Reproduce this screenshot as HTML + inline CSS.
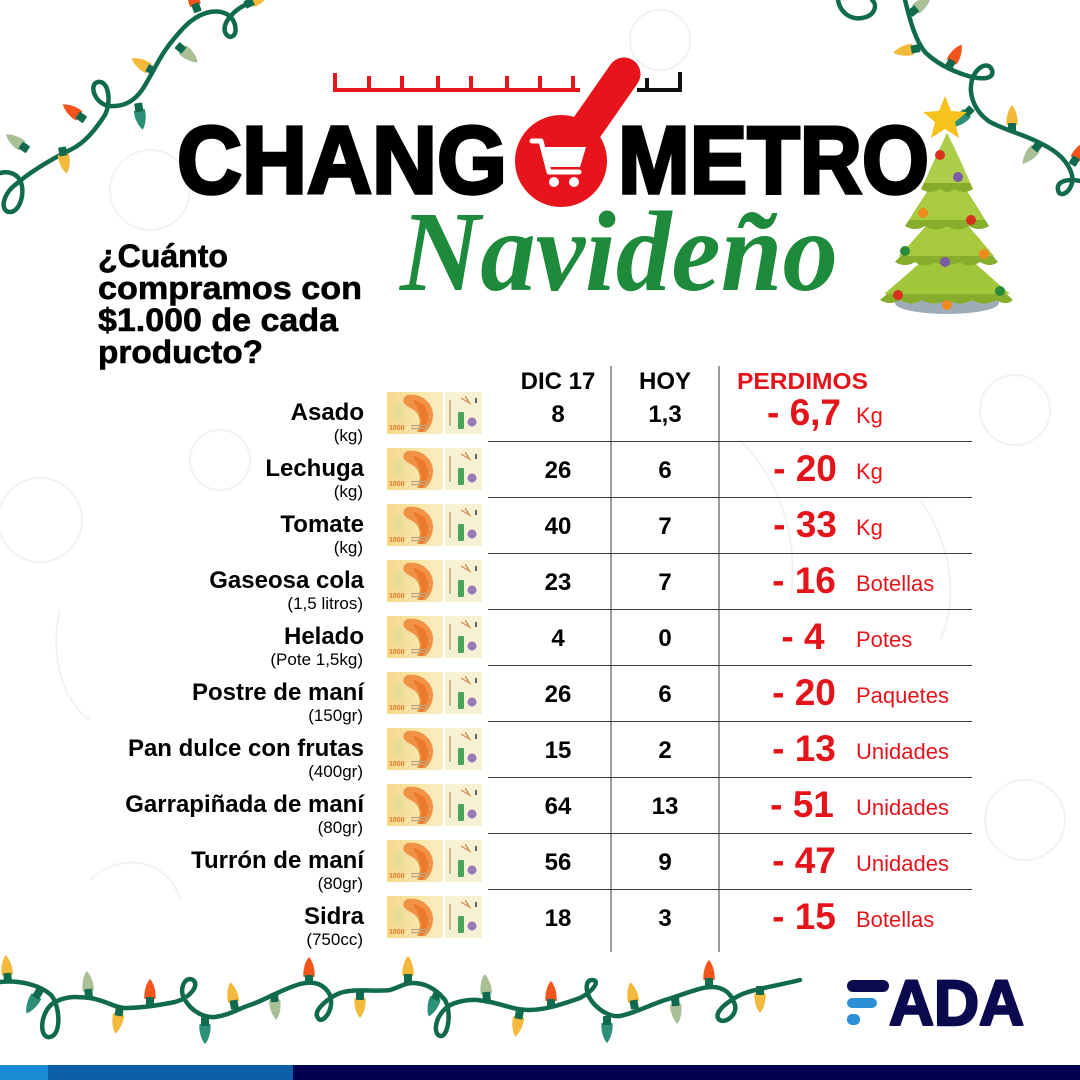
<!DOCTYPE html>
<html><head><meta charset="utf-8"><style>
html,body{margin:0;padding:0;background:#fff;}
svg{display:block;}
text{font-family:"Liberation Sans",Arial,sans-serif;}
</style></head><body>
<svg width="1080" height="1080" viewBox="0 0 1080 1080" xmlns="http://www.w3.org/2000/svg">
<defs>
  <linearGradient id="billg" x1="0" x2="1" y1="0" y2="0">
    <stop offset="0" stop-color="#f5d98c"/><stop offset="1" stop-color="#f8eec4"/>
  </linearGradient>
  <g id="bill">
    <rect x="0" y="0" width="56" height="42" fill="url(#billg)"/>
    <path d="M20,3 C34,1 46,10 46,23 C46,31 42,37 38,40 L30,40 C35,31 33,21 25,17 C18,13 12,9 20,3 Z" fill="#f09245"/>
    <path d="M26,8 C36,9 42,17 41,27 C40,33 38,37 35,40 L32,40 C36,30 34,20 26,8 Z" fill="#ec7a2c"/>
    <ellipse cx="12" cy="20" rx="5" ry="9" fill="#e9dc9a"/>
    <text x="2" y="38" font-size="7" font-weight="bold" fill="#e8762a">1000</text>
    <rect x="24" y="33" width="18" height="1.2" fill="#b9a27a"/>
    <rect x="24" y="36" width="16" height="1.2" fill="#b9a27a"/>
    <rect x="58" y="0" width="37" height="42" fill="#f7f1d4"/>
    <rect x="62" y="8" width="2" height="26" fill="#c9b892"/>
    <rect x="71" y="20" width="6" height="17" rx="1" fill="#4aa55a"/>
    <circle cx="85" cy="30" r="4.5" fill="#9a7ab5"/>
    <path d="M74,6 L84,12 M78,4 L82,10" stroke="#c98a55" stroke-width="1.2"/>
    <rect x="88" y="6" width="2" height="5" fill="#666"/>
  </g>
  <g id="bulb">
    <path d="M-5.5,-7 C-6.5,-15 -3,-24 0,-27 C3,-24 6.5,-15 5.5,-7 Z"/>
    <rect x="-4" y="-9" width="8" height="9" rx="1" fill="#0f6a4e"/>
  </g>
</defs>

<!-- faint background doodles -->
<g fill="none" stroke="#f1f3f2" stroke-width="2">
  <circle cx="150" cy="190" r="40"/>
  <circle cx="40" cy="520" r="42"/>
  <circle cx="1015" cy="410" r="35"/>
  <circle cx="1025" cy="820" r="40"/>
  <circle cx="220" cy="460" r="30"/>
  <circle cx="660" cy="40" r="30"/>
  <path d="M60,610 C50,650 60,700 90,720 M90,880 C120,850 170,860 180,900"/>
  <path d="M740,440 C780,480 800,540 790,600 M920,500 C950,540 960,600 940,640"/>
</g>

<!-- top-left lights -->
<path d="M-5,175 C5,170 15,172 20,180 C26,192 20,212 10,212 C0,212 2,195 15,185 C30,172 50,160 70,150 C85,143 95,130 105,115 C112,100 108,80 98,82 C88,84 95,105 110,106 C125,107 135,100 142,90 C152,75 160,55 173,40 C185,25 195,15 210,12 C222,10 232,14 235,25 C238,38 228,40 225,32 C222,22 235,10 245,5 C252,2 258,0 262,-2" fill="none" stroke="#0f6a4e" stroke-width="4.5" stroke-linecap="round"/>
<use href="#bulb" transform="translate(28,150) rotate(-55)" fill="#a9bf95"/>
<use href="#bulb" transform="translate(62,147) rotate(170)" fill="#f2b93b"/>
<use href="#bulb" transform="translate(85,120) rotate(-55)" fill="#f2541b"/>
<use href="#bulb" transform="translate(138,103) rotate(170)" fill="#2e8f78"/>
<use href="#bulb" transform="translate(155,72) rotate(-60)" fill="#f2b93b"/>
<use href="#bulb" transform="translate(177,45) rotate(130)" fill="#a9bf95"/>
<use href="#bulb" transform="translate(198,12) rotate(-20)" fill="#f2541b"/>
<use href="#bulb" transform="translate(245,5) rotate(65)" fill="#f2b93b"/>

<!-- top-right lights -->
<path d="M838,0 C840,12 850,20 862,18 C875,16 878,5 872,0" fill="none" stroke="#0f6a4e" stroke-width="4.5" stroke-linecap="round"/>
<path d="M905,0 C910,20 915,40 925,52 C935,62 950,70 965,75 C980,80 995,80 992,70 C988,60 975,68 972,80 C968,95 975,112 990,122 C1005,130 1025,135 1040,143 C1055,150 1068,160 1072,175 C1075,190 1060,200 1058,190 C1056,180 1070,178 1085,182" fill="none" stroke="#0f6a4e" stroke-width="4.5" stroke-linecap="round"/>
<use href="#bulb" transform="translate(910,14) rotate(50)" fill="#a9bf95"/>
<use href="#bulb" transform="translate(920,48) rotate(-100)" fill="#f2b93b"/>
<use href="#bulb" transform="translate(948,68) rotate(30)" fill="#f2541b"/>
<use href="#bulb" transform="translate(972,108) rotate(-135)" fill="#2e8f78"/>
<use href="#bulb" transform="translate(1012,132) rotate(0)" fill="#f2b93b"/>
<use href="#bulb" transform="translate(1040,143) rotate(-140)" fill="#a9bf95"/>
<use href="#bulb" transform="translate(1072,165) rotate(30)" fill="#f2541b"/>

<!-- ruler / thermometer -->
<g fill="#e8141c">
  <rect x="333" y="88" width="247" height="4"/>
  <rect x="333" y="73" width="4" height="19"/>
  <rect x="367" y="76" width="4" height="16"/>
  <rect x="400" y="76" width="4" height="16"/>
  <rect x="436" y="76" width="4" height="16"/>
  <rect x="469" y="76" width="4" height="16"/>
  <rect x="505" y="76" width="4" height="16"/>
  <rect x="538" y="76" width="4" height="16"/>
  <rect x="571" y="76" width="4" height="16"/>
</g>
<g fill="#111">
  <rect x="637" y="88" width="45" height="4"/>
  <rect x="645" y="78" width="4" height="14"/>
  <rect x="678" y="72" width="4" height="20"/>
</g>
<line x1="585" y1="130" x2="624" y2="74" stroke="#e8141c" stroke-width="33" stroke-linecap="round"/>
<circle cx="561" cy="161" r="46" fill="#e8141c"/>
<!-- cart -->
<path d="M532,141 L541,141 L549,172 L579,172" fill="none" stroke="#fff" stroke-width="5" stroke-linejoin="round" stroke-linecap="round"/>
<polygon points="543,147 586,147 580,167 549,167" fill="#fff"/>
<circle cx="554" cy="182" r="5" fill="#fff"/>
<circle cx="574" cy="182" r="5" fill="#fff"/>

<!-- title -->
<text x="177" y="193" font-size="96" font-weight="bold" fill="#000" stroke="#000" stroke-width="3.5" textLength="330" lengthAdjust="spacingAndGlyphs">CHANG</text>
<text x="618" y="193" font-size="96" font-weight="bold" fill="#000" stroke="#000" stroke-width="3.5" textLength="311" lengthAdjust="spacingAndGlyphs">METRO</text>

<text x="400" y="290" font-style="italic" font-weight="bold" font-size="114" fill="#1e8b3c" textLength="438" lengthAdjust="spacingAndGlyphs" style="font-family:'Liberation Serif',serif">Navideño</text>

<!-- tree -->
<ellipse cx="947" cy="303" rx="52" ry="11" fill="#9eabb8"/>
<path d="M947,238 Q915,270 880,300 Q890,306 900,300 Q912,307 922,300 Q934,307 947,300 Q960,307 972,300 Q984,307 996,300 Q1006,306 1013,300 Q980,270 947,238 Z" fill="#86ad2b"/>
<path d="M947,238 Q915,268 884,294 L1010,294 Q980,268 947,238 Z" fill="#a2c63a"/>
<path d="M947,202 Q920,235 895,262 Q905,268 915,262 Q925,269 935,262 Q947,269 959,262 Q970,269 980,262 Q990,268 998,262 Q975,235 947,202 Z" fill="#86ad2b"/>
<path d="M947,202 Q920,233 899,256 L994,256 Q975,233 947,202 Z" fill="#a6c93e"/>
<path d="M947,165 Q925,195 905,226 Q915,232 925,226 Q936,233 947,226 Q958,233 969,226 Q979,232 989,226 Q970,195 947,165 Z" fill="#86ad2b"/>
<path d="M947,165 Q925,193 909,220 L985,220 Q970,193 947,165 Z" fill="#a8cb42"/>
<path d="M947,133 Q935,160 921,189 Q930,195 940,189 Q947,195 955,189 Q964,195 973,189 Q960,160 947,133 Z" fill="#86ad2b"/>
<path d="M947,133 Q935,158 924,183 L970,183 Q960,158 947,133 Z" fill="#acce48"/>
<polygon points="945,96 951,111 967,112 955,122 959,138 945,129 931,138 935,122 923,112 939,111" fill="#f7c21b"/>
<g>
  <circle cx="940" cy="155" r="5" fill="#d8301f"/>
  <circle cx="958" cy="177" r="5" fill="#7b5ba6"/>
  <circle cx="923" cy="213" r="5" fill="#ee8a1e"/>
  <circle cx="971" cy="220" r="5" fill="#d8301f"/>
  <circle cx="905" cy="251" r="5" fill="#2a8a3a"/>
  <circle cx="945" cy="262" r="5" fill="#7b5ba6"/>
  <circle cx="984" cy="254" r="5" fill="#ee8a1e"/>
  <circle cx="898" cy="295" r="5" fill="#d8301f"/>
  <circle cx="947" cy="305" r="5" fill="#ee8a1e"/>
  <circle cx="1000" cy="291" r="5" fill="#2a8a3a"/>
</g>

<!-- question -->
<g font-size="32" font-weight="bold" fill="#000" stroke="#000" stroke-width="0.6">
  <text x="98" y="267" textLength="130" lengthAdjust="spacingAndGlyphs">¿Cuánto</text>
  <text x="98" y="299" textLength="264" lengthAdjust="spacingAndGlyphs">compramos con</text>
  <text x="98" y="331" textLength="240" lengthAdjust="spacingAndGlyphs">$1.000 de cada</text>
  <text x="98" y="363" textLength="165" lengthAdjust="spacingAndGlyphs">producto?</text>
</g>

<!-- table headers -->
<text x="558" y="389" font-size="24" font-weight="bold" text-anchor="middle" fill="#000">DIC 17</text>
<text x="665" y="389" font-size="24" font-weight="bold" text-anchor="middle" fill="#000">HOY</text>
<text x="737" y="389" font-size="23" font-weight="bold" fill="#e5141b" textLength="131" lengthAdjust="spacingAndGlyphs">PERDIMOS</text>

<!-- grid -->
<g stroke="#3a3a3a" stroke-width="1">
  <line x1="611" y1="366" x2="611" y2="952"/>
  <line x1="719" y1="366" x2="719" y2="952"/>
  <line x1="488" y1="441.5" x2="972" y2="441.5"/>
  <line x1="488" y1="497.5" x2="972" y2="497.5"/>
  <line x1="488" y1="553.5" x2="972" y2="553.5"/>
  <line x1="488" y1="609.5" x2="972" y2="609.5"/>
  <line x1="488" y1="665.5" x2="972" y2="665.5"/>
  <line x1="488" y1="721.5" x2="972" y2="721.5"/>
  <line x1="488" y1="777.5" x2="972" y2="777.5"/>
  <line x1="488" y1="833.5" x2="972" y2="833.5"/>
  <line x1="488" y1="889.5" x2="972" y2="889.5"/>
</g>

<!-- bills -->
<use href="#bill" x="387" y="392"/>
<use href="#bill" x="387" y="448"/>
<use href="#bill" x="387" y="504"/>
<use href="#bill" x="387" y="560"/>
<use href="#bill" x="387" y="616"/>
<use href="#bill" x="387" y="672"/>
<use href="#bill" x="387" y="728"/>
<use href="#bill" x="387" y="784"/>
<use href="#bill" x="387" y="840"/>
<use href="#bill" x="387" y="896"/>

<!-- names -->
<g font-size="24" font-weight="bold" fill="#000" text-anchor="end">
  <text x="364" y="420">Asado</text>
  <text x="364" y="476">Lechuga</text>
  <text x="364" y="532">Tomate</text>
  <text x="364" y="588">Gaseosa cola</text>
  <text x="364" y="644">Helado</text>
  <text x="364" y="700">Postre de maní</text>
  <text x="364" y="756">Pan dulce con frutas</text>
  <text x="364" y="812">Garrapiñada de maní</text>
  <text x="364" y="868">Turrón de maní</text>
  <text x="364" y="924">Sidra</text>
</g>
<g font-size="17" fill="#000" text-anchor="end">
  <text x="363" y="441">(kg)</text>
  <text x="363" y="497">(kg)</text>
  <text x="363" y="553">(kg)</text>
  <text x="363" y="609">(1,5 litros)</text>
  <text x="363" y="665">(Pote 1,5kg)</text>
  <text x="363" y="721">(150gr)</text>
  <text x="363" y="777">(400gr)</text>
  <text x="363" y="833">(80gr)</text>
  <text x="363" y="889">(80gr)</text>
  <text x="363" y="945">(750cc)</text>
</g>

<!-- values -->
<g font-size="24" font-weight="bold" fill="#000" text-anchor="middle">
  <text x="558" y="422">8</text><text x="665" y="422">1,3</text>
  <text x="558" y="478">26</text><text x="665" y="478">6</text>
  <text x="558" y="534">40</text><text x="665" y="534">7</text>
  <text x="558" y="590">23</text><text x="665" y="590">7</text>
  <text x="558" y="646">4</text><text x="665" y="646">0</text>
  <text x="558" y="702">26</text><text x="665" y="702">6</text>
  <text x="558" y="758">15</text><text x="665" y="758">2</text>
  <text x="558" y="814">64</text><text x="665" y="814">13</text>
  <text x="558" y="870">56</text><text x="665" y="870">9</text>
  <text x="558" y="926">18</text><text x="665" y="926">3</text>
</g>
<g font-size="37" font-weight="bold" fill="#e5141b" text-anchor="middle">
  <text x="804" y="425">- 6,7</text>
  <text x="805" y="481">- 20</text>
  <text x="805" y="537">- 33</text>
  <text x="804" y="593">- 16</text>
  <text x="803" y="649">- 4</text>
  <text x="804" y="705">- 20</text>
  <text x="804" y="761">- 13</text>
  <text x="802" y="817">- 51</text>
  <text x="804" y="873">- 47</text>
  <text x="804" y="929">- 15</text>
</g>
<g font-size="22" fill="#e5141b">
  <text x="856" y="423">Kg</text>
  <text x="856" y="479">Kg</text>
  <text x="856" y="535">Kg</text>
  <text x="856" y="591">Botellas</text>
  <text x="856" y="647">Potes</text>
  <text x="856" y="703">Paquetes</text>
  <text x="856" y="759">Unidades</text>
  <text x="856" y="815">Unidades</text>
  <text x="856" y="871">Unidades</text>
  <text x="856" y="927">Botellas</text>
</g>

<!-- bottom lights -->
<path d="M0,982 C20,980 40,985 51,995 C60,1005 62,1035 50,1037 C38,1039 40,1010 55,1002 C68,995 80,997 90,998 C105,1000 115,1008 125,1008 C140,1008 160,1005 175,1002 C190,998 200,985 193,980 C185,975 178,990 185,1000 C192,1012 205,1018 215,1017 C230,1015 240,1008 250,1005 C265,1000 280,990 300,984 C315,980 325,985 330,995 C335,1010 322,1025 318,1018 C312,1010 330,997 340,993 C355,988 375,992 390,990 C400,987 405,983 412,983 C425,983 435,988 445,1000 C452,1012 448,1038 440,1036 C432,1034 435,1010 455,1003 C470,998 480,1000 490,1002 C505,1005 515,1010 528,1010 C545,1010 560,1005 580,998 C595,990 600,980 592,980 C584,980 585,995 595,1005 C603,1013 612,1017 620,1016 C635,1013 650,1005 665,1000 C685,994 700,987 712,987 C725,987 732,995 735,1005 C738,1016 722,1026 718,1018 C714,1010 735,996 748,992 C765,987 780,985 800,980" fill="none" stroke="#0f6a4e" stroke-width="4.5" stroke-linecap="round"/>
<use href="#bulb" transform="translate(8,982) rotate(-5)" fill="#f2b93b"/>
<use href="#bulb" transform="translate(89,998) rotate(-5)" fill="#a9bf95"/>
<use href="#bulb" transform="translate(150,1006) rotate(0)" fill="#f2541b"/>
<use href="#bulb" transform="translate(235,1009) rotate(-10)" fill="#f2b93b"/>
<use href="#bulb" transform="translate(309,984) rotate(0)" fill="#f2541b"/>
<use href="#bulb" transform="translate(408,983) rotate(0)" fill="#f2b93b"/>
<use href="#bulb" transform="translate(487,1001) rotate(-5)" fill="#a9bf95"/>
<use href="#bulb" transform="translate(551,1008) rotate(0)" fill="#f2541b"/>
<use href="#bulb" transform="translate(635,1009) rotate(-10)" fill="#f2b93b"/>
<use href="#bulb" transform="translate(709,987) rotate(0)" fill="#f2541b"/>
<use href="#bulb" transform="translate(40,990) rotate(-150)" fill="#2e8f78"/>
<use href="#bulb" transform="translate(120,1007) rotate(190)" fill="#f2b93b"/>
<use href="#bulb" transform="translate(205,1017) rotate(180)" fill="#2e8f78"/>
<use href="#bulb" transform="translate(274,993) rotate(175)" fill="#a9bf95"/>
<use href="#bulb" transform="translate(360,991) rotate(180)" fill="#f2b93b"/>
<use href="#bulb" transform="translate(438,991) rotate(-160)" fill="#2e8f78"/>
<use href="#bulb" transform="translate(520,1010) rotate(190)" fill="#f2b93b"/>
<use href="#bulb" transform="translate(607,1016) rotate(180)" fill="#2e8f78"/>
<use href="#bulb" transform="translate(675,997) rotate(175)" fill="#a9bf95"/>
<use href="#bulb" transform="translate(760,986) rotate(180)" fill="#f2b93b"/>

<!-- FADA logo -->
<rect x="847" y="980" width="42" height="12" rx="6" fill="#0b0a4f"/>
<rect x="847" y="998" width="30" height="10" rx="5" fill="#2a8fd6"/>
<rect x="847" y="1014" width="13" height="11" rx="5" fill="#2a8fd6"/>
<text x="889" y="1025" font-size="64" font-weight="bold" fill="#0b0a4f" stroke="#0b0a4f" stroke-width="2.5" stroke-linejoin="round" textLength="135" lengthAdjust="spacingAndGlyphs">ADA</text>

<!-- bottom bar -->
<rect x="0" y="1065" width="1080" height="15" fill="#020050"/>
<rect x="0" y="1065" width="293" height="15" fill="#0c5ea6"/>
<rect x="0" y="1065" width="48" height="15" fill="#1a8ad4"/>
</svg>
</body></html>
